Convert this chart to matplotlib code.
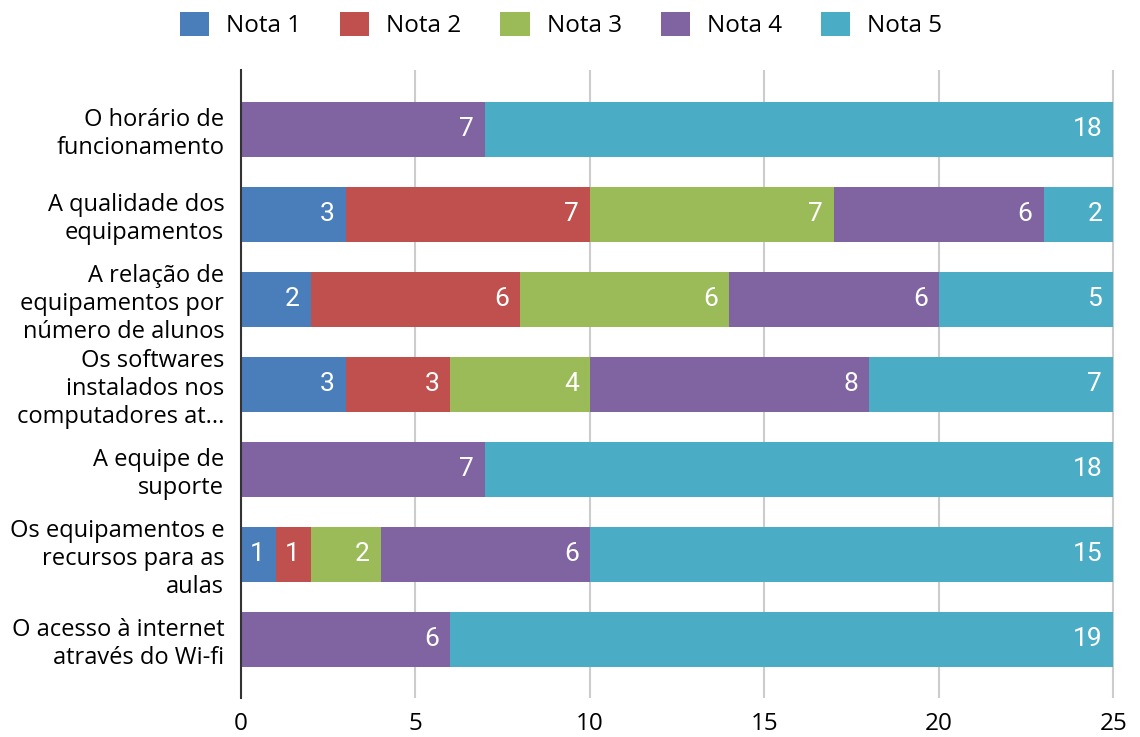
import numpy as np
import matplotlib.pyplot as plt

categories = [
    "O horário de\nfuncionamento",
    "A qualidade dos\nequipamentos",
    "A relação de\nequipamentos por\nnúmero de alunos",
    "Os softwares\ninstalados nos\ncomputadores at...",
    "A equipe de\nsuporte",
    "Os equipamentos e\nrecursos para as\naulas",
    "O acesso à internet\natravés do Wi-fi",
]
series_names = ["Nota 1", "Nota 2", "Nota 3", "Nota 4", "Nota 5"]
nota1 = [0, 3, 2, 3, 0, 1, 0]
nota2 = [0, 7, 6, 3, 0, 1, 0]
nota3 = [0, 7, 6, 4, 0, 2, 0]
nota4 = [7, 6, 6, 8, 7, 6, 6]
nota5 = [18, 2, 5, 7, 18, 15, 19]
colors = ["#4a7ebb", "#c0504d", "#9bbb59", "#8064a2", "#4bacc6"]
xticks = [0, 5, 10, 15, 20, 25]

fig = plt.figure(figsize=(11.4, 7.37), dpi=100)
ax = fig.add_axes([0.2114, 0.053, 0.7667, 0.852])

y = np.arange(len(categories))
left = np.zeros(len(categories))
handles = []
for name, vals, c in zip(series_names, [nota1, nota2, nota3, nota4, nota5], colors):
    vals = np.array(vals, dtype=float)
    h = ax.barh(y, vals, left=left, height=0.647, color=c, label=name, zorder=2)
    handles.append(h)
    for yi, (l, v) in enumerate(zip(left, vals)):
        if v > 0:
            ax.annotate(f"{int(v)}", (l + v, yi), xytext=(-8, 0), textcoords="offset points",
                        ha="right", va="center", color="white", fontsize=19,
                        family="Roboto", zorder=3)
    left += vals

ax.set_ylim(len(categories) - 1 + 0.69, -0.7)
ax.set_xlim(0, 25.05)
ax.set_yticks(y)
ax.set_yticklabels(categories, fontsize=17, family="Open Sans", linespacing=1.22)
ax.set_xticks(xticks)
ax.set_xticklabels([str(t) for t in xticks], fontsize=17.5, family="Open Sans")
ax.tick_params(length=0)
ax.tick_params(axis="x", pad=10)
ax.tick_params(axis="y", pad=12)
ax.grid(axis="x", color="#cccccc", linewidth=1.5, zorder=0)
for s in ["top", "right", "bottom"]:
    ax.spines[s].set_visible(False)
ax.spines["left"].set_color("#333333")
ax.spines["left"].set_linewidth(1.5)
ax.spines["left"].set_zorder(4)

fig.legend(handles=handles, loc="upper center", bbox_to_anchor=(0.492, 1.014), ncol=5,
           frameon=False, prop={"family": "Open Sans", "size": 17.5},
           handlelength=1.2, handleheight=1.2, columnspacing=1.6, handletextpad=0.7)

fig.savefig("out.png", dpi=100)
